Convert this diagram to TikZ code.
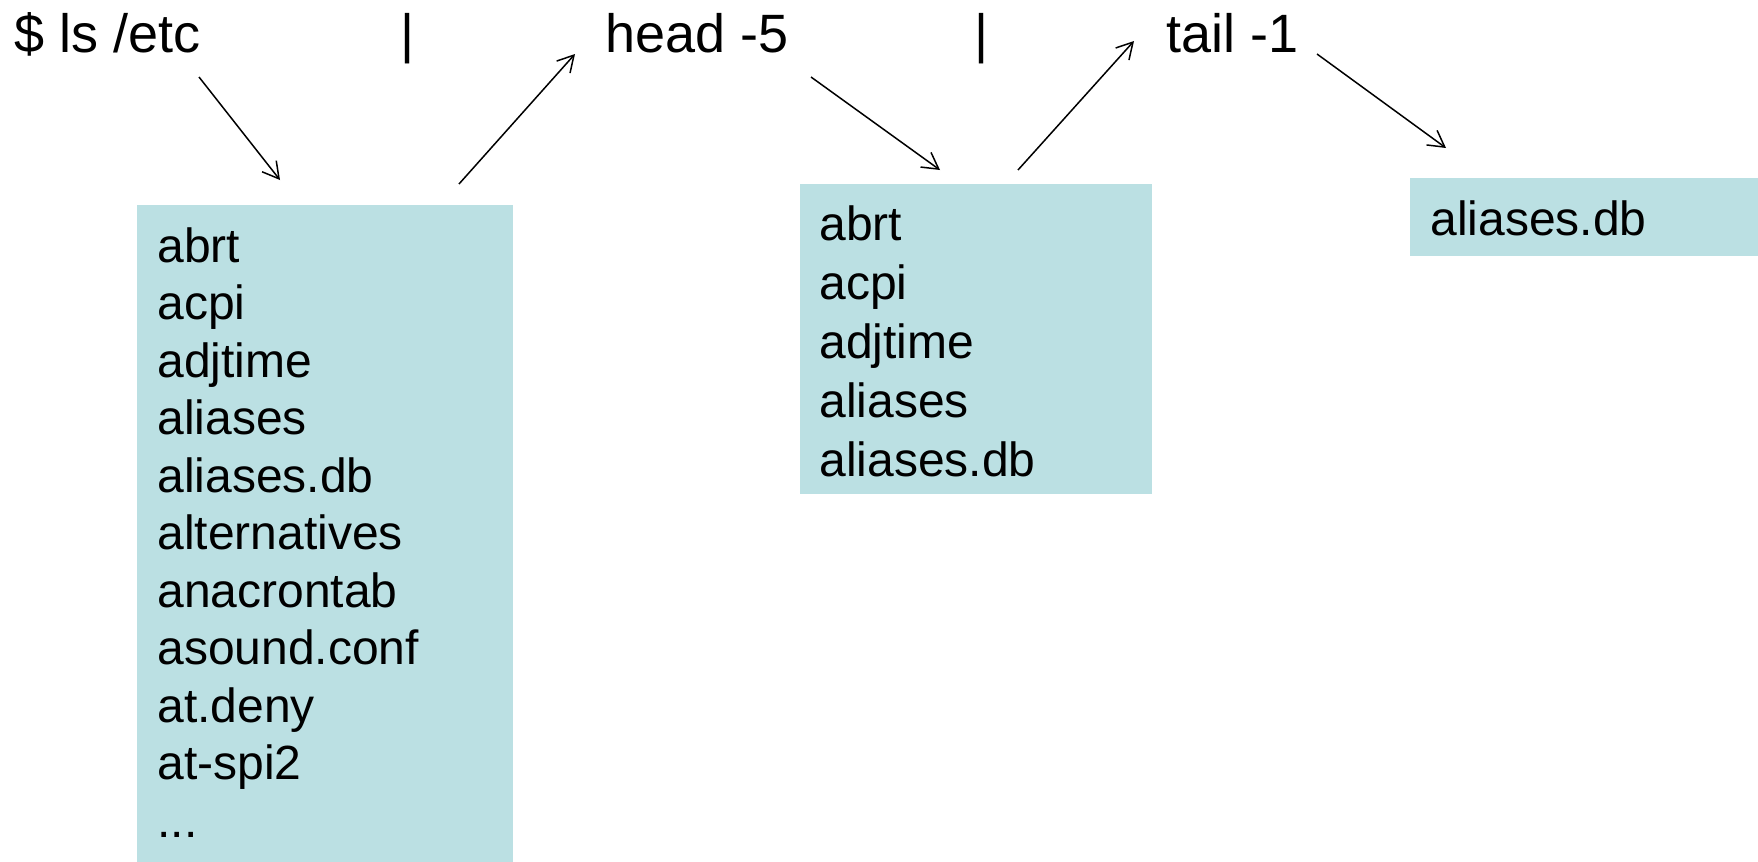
\documentclass[tikz,border=0pt]{standalone}
\usepackage{fontspec}
\setmainfont{Liberation Sans}
\usetikzlibrary{arrows.meta}
\definecolor{listfill}{RGB}{187,224,227}
\begin{document}
\begin{tikzpicture}[x=0.5pt,y=-0.5pt,
  cmd/.style={font=\fontsize{27}{32}\selectfont, inner sep=0pt, anchor=base west},
  item/.style={font=\fontsize{24}{29}\selectfont, inner sep=0pt, anchor=base west},
  listbox/.style={fill=listfill, draw=none, inner sep=0pt, anchor=north west},
  arr/.style={line width=0.75pt, -{Straight Barb[length=8pt,width=9pt]}}]
\useasboundingbox (0,0) rectangle (1758,862);

% command line
\node[cmd] (ls) at (14,52) {\$ ls /etc};
\node[cmd, anchor=base] (pipe1) at (408,52) {|};
\node[cmd] (head) at (605,52) {head -5};
\node[cmd, anchor=base] (pipe2) at (982,52) {|};
\node[cmd] (tail) at (1166,52) {tail -1};

% output of ls /etc
\node[listbox, minimum width=188pt, minimum height=328.5pt] (lsout) at (137,205) {};
\foreach \t [count=\i] in {abrt,acpi,adjtime,aliases,aliases.db,alternatives,anacrontab,asound.conf,at.deny,at-spi2}
  \node[item] (lsitem\i) at (157,{262+(\i-1)*57.5}) {\t};
\node[item] (lsmore) at (157,837) {...};

% output of head -5
\node[listbox, minimum width=176pt, minimum height=155pt] (headout) at (800,184) {};
\foreach \t [count=\i] in {abrt,acpi,adjtime,aliases,aliases.db}
  \node[item] (headitem\i) at (819,{240+(\i-1)*59}) {\t};

% output of tail -1
\node[listbox, minimum width=174pt, minimum height=39pt] (tailout) at (1410,178) {};
\node[item] (tailitem) at (1430,235) {aliases.db};

% arrow ends
\coordinate (ls-out) at (199,77);
\coordinate (lsout-in) at (280,180);
\coordinate (lsout-out) at (459,184);
\coordinate (head-in) at (575,54);
\coordinate (head-out) at (811,77);
\coordinate (headout-in) at (940,170);
\coordinate (headout-out) at (1018,170);
\coordinate (tail-in) at (1134,41);
\coordinate (tail-out) at (1317,54);
\coordinate (tailout-in) at (1446,148);

\draw[arr] (ls-out) -- (lsout-in);
\draw[arr] (lsout-out) -- (head-in);
\draw[arr] (head-out) -- (headout-in);
\draw[arr] (headout-out) -- (tail-in);
\draw[arr] (tail-out) -- (tailout-in);
\end{tikzpicture}
\end{document}
